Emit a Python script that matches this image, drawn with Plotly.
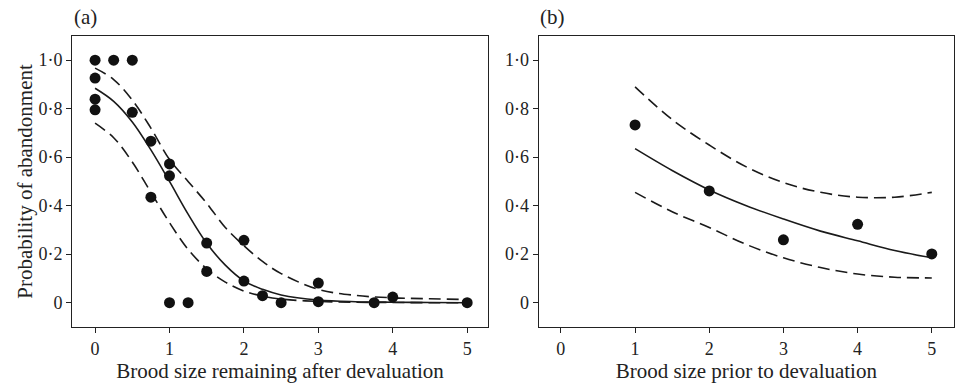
import plotly.graph_objects as go

# Panel (a) observed data
a_x = [0, 0.25, 0.5, 0, 0, 0, 0.5, 0.75, 0.75, 1, 1, 1, 1.25, 1.5, 1.5, 2, 2, 2.25, 2.5, 3, 3, 3.75, 4, 5]
a_y = [1.0, 1.0, 1.0, 0.926, 0.839, 0.795, 0.785, 0.666, 0.435, 0.572, 0.523, 0.0, 0.0, 0.246, 0.129, 0.257, 0.089, 0.029, 0.0, 0.081, 0.004, 0.0, 0.023, 0.0]

# Panel (a) fitted curve and confidence limits
a_cx = [0, 0.25, 0.5, 0.75, 1.0, 1.25, 1.5, 1.75, 2.0, 2.25, 2.5, 3.0, 3.5, 4.0, 4.5, 5.0]
a_fit = [0.884, 0.83, 0.745, 0.63, 0.50, 0.365, 0.245, 0.155, 0.09, 0.055, 0.032, 0.011, 0.004, 0.002, 0.001, 0.0]
a_up = [0.967, 0.92, 0.835, 0.72, 0.59, 0.50, 0.41, 0.31, 0.235, 0.17, 0.12, 0.055, 0.03, 0.02, 0.016, 0.013]
a_lo = [0.74, 0.68, 0.58, 0.455, 0.33, 0.22, 0.14, 0.085, 0.048, 0.027, 0.015, 0.005, 0.002, 0.001, 0.0, 0.0]

# Panel (b) observed data
b_x = [1, 2, 3, 4, 5]
b_y = [0.733, 0.461, 0.259, 0.323, 0.201]

# Panel (b) fitted curve and confidence limits
b_cx = [1, 1.5, 2, 2.5, 3, 3.5, 4, 4.5, 5]
b_fit = [0.635, 0.545, 0.465, 0.40, 0.345, 0.295, 0.255, 0.215, 0.185]
b_up = [0.89, 0.755, 0.65, 0.56, 0.495, 0.455, 0.435, 0.435, 0.455]
b_lo = [0.455, 0.375, 0.31, 0.24, 0.185, 0.145, 0.118, 0.105, 0.102]

x_ticks = [0, 1, 2, 3, 4, 5]
y_ticks = [0, 0.2, 0.4, 0.6, 0.8, 1.0]
y_tick_text = ["0", "0·2", "0·4", "0·6", "0·8", "1·0"]

FONT = "Liberation Serif, Times New Roman, serif"
INK = "#222222"
fig = go.Figure()

def add_panel(xa, ya, cx, fit, up, lo, px, py):
    for yy, dash in [(up, "12px,6px"), (lo, "12px,6px"), (fit, "solid")]:
        fig.add_trace(go.Scatter(x=cx, y=yy, mode="lines", xaxis=xa, yaxis=ya,
                                 line=dict(color="#1a1a1a", width=1.6, dash=dash, shape="spline"),
                                 showlegend=False, hoverinfo="skip"))
    fig.add_trace(go.Scatter(x=px, y=py, mode="markers", xaxis=xa, yaxis=ya,
                             marker=dict(color="#111111", size=11), showlegend=False))

add_panel("x", "y", a_cx, a_fit, a_up, a_lo, a_x, a_y)
add_panel("x2", "y2", b_cx, b_fit, b_up, b_lo, b_x, b_y)

axis_common = dict(showline=True, linecolor=INK, linewidth=1, mirror=True,
                   ticks="outside", ticklen=5, tickwidth=1, tickcolor=INK,
                   showgrid=False, zeroline=False,
                   tickfont=dict(family=FONT, size=18, color=INK))

TITLE_FONT = dict(size=21, family=FONT, color=INK)

fig.update_layout(
    width=955, height=386,
    margin=dict(l=0, r=0, t=0, b=0),
    paper_bgcolor="white", plot_bgcolor="white",
    font=dict(family=FONT, color=INK),
    xaxis=dict(domain=[0.0754, 0.511], range=[-0.31, 5.28], tickvals=x_ticks,
               title=dict(text="Brood size remaining after devaluation", font=TITLE_FONT, standoff=2),
               **axis_common),
    yaxis=dict(domain=[0.153, 0.907], range=[-0.1, 1.1], tickvals=y_ticks, ticktext=y_tick_text,
               title=dict(text="Probability of abandonment", font=TITLE_FONT, standoff=0),
               **axis_common),
    xaxis2=dict(domain=[0.564, 0.999], range=[-0.3, 5.3], tickvals=x_ticks, anchor="y2",
                title=dict(text="Brood size prior to devaluation", font=TITLE_FONT, standoff=2),
                **axis_common),
    yaxis2=dict(domain=[0.153, 0.907], range=[-0.1, 1.1], tickvals=y_ticks, ticktext=y_tick_text,
                anchor="x2", **axis_common),
    annotations=[
        dict(text="(a)", x=72 / 955, y=1 - 17 / 386, xref="paper", yref="paper", xanchor="left",
             yanchor="middle", showarrow=False, font=dict(family=FONT, size=21, color=INK)),
        dict(text="(b)", x=538 / 955, y=1 - 17 / 386, xref="paper", yref="paper", xanchor="left",
             yanchor="middle", showarrow=False, font=dict(family=FONT, size=21, color=INK)),
    ],
)

fig.write_html("out.html", config={"displayModeBar": False},
               post_script="document.body.style.margin='0';")
